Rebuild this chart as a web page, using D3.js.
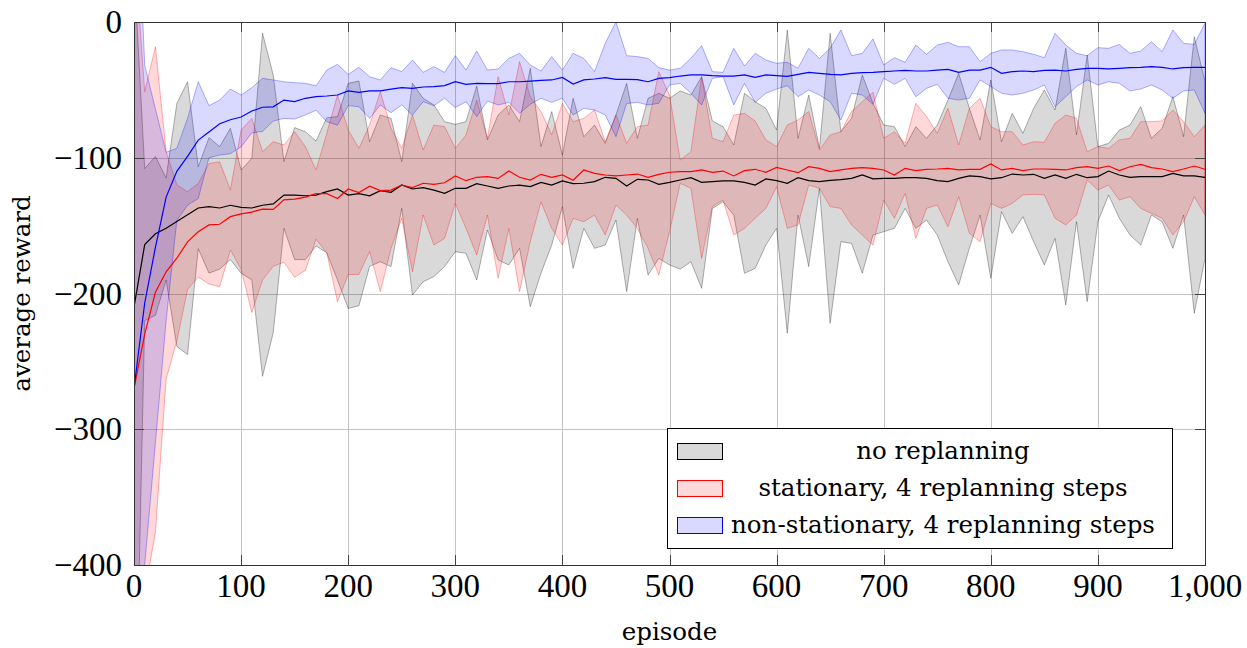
<!DOCTYPE html>
<html lang="en">
<head>
    <meta charset="UTF-8">
    <title>average reward per episode</title>
    <script src="https://d3js.org/d3.v7.min.js"></script>
    <style>
        body { margin: 0; background: #fff; }
        .tick-label { font-family: "Liberation Serif", serif; font-size: 33px; }
        .axis-title, .legend text { font-family: "DejaVu Serif", serif; font-size: 24.5px; }
    </style>
</head>
<body>
<script>
    // episodes (x values), one sample every 10 episodes
    const episodes = d3.range(0, 1001, 10);

    const xTicks = [0, 100, 200, 300, 400, 500, 600, 700, 800, 900, 1000];
    const yTicks = [-400, -300, -200, -100, 0];

    // no replanning
    const noReplanMean = [-210, -164, -156, -152, -147, -142, -137, -136, -137, -135, -136.5, -137, -135, -134, -127.5, -127.5, -128, -127.5, -125, -123, -127.5, -126.5, -128,
        -124.2, -125.5, -120.1, -123, -122, -123.8, -126.2, -122.5, -122.5, -119.1, -120.8, -122.5, -120.8, -120.1, -121.3, -118.1, -120.1, -117.1, -119.1, -118.8, -117.6, -114.4, -115.2, -120.8, -115.9,
        -116.4, -119.6, -118.1, -116.4, -114.7, -118.1, -117.6, -117.1, -117.1, -118.1, -120.1, -115.6, -116.9, -118.8, -114.7, -116.9, -117.6, -116.6, -116.1, -115.2, -112.7, -115.6, -115.2, -115.2, -114.7, -114.7,
        -115.2, -116.9, -117.6, -115.2, -113.4, -113.9, -115.6, -114.7, -112, -112.7, -112.2, -115.2, -112.7, -115.2, -112.2, -114.7, -113.9, -109.8, -112.7, -114.4, -113.9, -113.9, -113.9, -111.5, -113.4, -113.4, -114.4];
    const noReplanHigh = [40, -108, -99, -115, -60, -44, -106.6, -85.2, -91.8, -78.3, -109, -100.4, -8.3, -39, -102.9, -77.8, -80.8, -87.7, -70.5, -69.7, -45.2, -43.5, -88.2,
        -68.5, -71, -102.9, -45.2, -56.2, -61.1, -73.4, -75.4, -73.4, -47.1, -86.9, -68.5, -61.1, -73.4, -34.1, -91.8, -66, -98, -56.2, -84.5, -75.9, -89.4, -68.5, -45.2, -85.7,
        -56.2, -52.5, -56.2, -50.8, -53.8, -40.3, -72.9, -77.1, -90.6, -52.5, -58.7, -63.6, -79.6, -5.9, -85.7, -53.8, -93.1, -8.3, -80.8, -71, -39, -59.9, -75.9, -77.1, -91.8, -77.1,
        -85.7, -75.9, -57.5, -37.8, -63.6, -86.9, -42.7, -88.2, -67.3, -82, -63.6, -50.1, -64.8, -19.4, -83.2, -24.3, -91.8, -89.4, -79.6, -75.9, -62.4, -85.7, -78.3, -55, -84.5, -10.8, -44];
    const noReplanLow = [-580, -220, -216, -190, -239, -245, -167, -185, -182, -175, -185, -190, -261, -229, -152, -175, -175, -165, -170, -190, -211, -209, -180,
        -176.6, -180.2, -137.3, -201.1, -191.3, -187.6, -180.2, -169.2, -170.4, -190.1, -153.2, -175.3, -179, -166.7, -209.7, -185.1, -164.3, -136, -181.5, -152, -166.7, -164.3, -145.9, -198.6, -144.6,
        -186.4, -174.1, -179, -182, -176.6, -196.2, -137.3, -132.4, -142.2, -185.1, -181.5, -164.3, -152, -229.3, -142.2, -180.2, -122.5, -222, -161.8, -163.1, -185.1, -156.9, -154.5, -152, -137.3, -152,
        -145.9, -156.9, -176.6, -193.7, -166.7, -142.2, -188.8, -139.7, -155.7, -143.4, -161.8, -179, -159.4, -208.5, -147.1, -206, -147.1, -127.4, -144.6, -156.9, -164.3, -142.2, -147.1, -166.7, -142.2, -214.6, -174.1];

    // stationary, 4 replanning steps
    const statMean = [-270, -230, -199, -184, -174, -162, -154.5, -149.5, -149, -143.4, -141.4, -140, -137.8, -138, -131, -130.5, -129, -126.5, -126.5, -130, -123, -125.7, -121,
        -124.2, -123.8, -120.1, -122, -118.8, -119.6, -118.4, -113.4, -116.9, -114.4, -113.9, -115.2, -109.8, -114.4, -116.4, -112.2, -114.4, -112.7, -116.6, -109, -111.5, -112.7, -113.4, -112.7, -112,
        -114.4, -112.2, -110.7, -110.2, -110.2, -109, -110.7, -109.8, -113.4, -109.5, -108.5, -110.7, -107.1, -109, -111, -106.6, -107.8, -110.2, -109, -107.8, -107.3, -107.8, -109, -112.7, -107.8, -109.5,
        -108.5, -108.3, -107.8, -109, -108.5, -108.5, -104.6, -109, -107.8, -109.5, -108.3, -108.3, -108.5, -109, -107.3, -106.6, -107.8, -106.1, -109.5, -106.6, -104.9, -107.3, -108.3, -110.2, -108.3, -106.1, -108.5];
    const statHigh = [60, -51.3, -18.2, -95.5, -120, -125, -119, -104.3, -103, -123.8, -79.6, -71, -95.5, -88.2, -90.6, -80.8, -91.8, -109, -82, -53.8, -79.6, -93, -75.9,
        -51.3, -78.3, -93.1, -68.5, -94.3, -75.9, -77.1, -93.1, -83.2, -57.5, -85.7, -40.3, -68.5, -29.2, -55, -66, -83.2, -59.9, -73.4, -71, -64.8, -88.2, -68.5, -89.4, -77.1,
        -75.9, -36.6, -53.8, -101.7, -95.5, -40.3, -85.7, -88.2, -68.5, -67.3, -72.9, -86.9, -91.8, -75.9, -72.2, -66, -94.3, -83.2, -80.8, -66, -58.7, -51.8, -85.7, -80.8, -89.4, -59.9,
        -69.7, -82, -63.6, -90.6, -63.6, -56.2, -77.1, -80.8, -80.8, -90.6, -88.2, -88.6, -74.6, -68.5, -71, -95.5, -91.8, -93.1, -86.9, -85.7, -73.4, -73.4, -72.9, -64.8, -73.4, -84.5, -75.9];
    const statLow = [-600, -420, -376, -263, -235, -197, -188, -193, -195, -168, -182, -214, -190, -180, -177, -188, -183, -160, -170, -206, -186, -186, -169,
        -198.6, -166.7, -144.6, -184, -142.2, -164.3, -159.4, -133.6, -152, -171.6, -142.2, -188.8, -152, -198.6, -161.8, -132.4, -152, -164.3, -144.6, -147.1, -142.2, -156.9, -134.8, -142.2, -152,
        -166.7, -186.4, -154.5, -118.8, -122.5, -174.1, -136, -131.1, -156.9, -152, -144.6, -137.3, -121.3, -152, -149.5, -120.1, -122.5, -136, -137.3, -149.5, -156.9, -164.3, -131.1, -144.6, -126.2, -159.4,
        -137.3, -134.8, -150.8, -128.7, -155.7, -161.8, -133.6, -137.3, -133.6, -127.4, -127, -127.4, -144.6, -149.5, -142.2, -116.4, -123.8, -120.1, -131.1, -128.7, -137.3, -141, -144.6, -156.9, -147.1, -128.7, -142.2];

    // non-stationary, 4 replanning steps
    const nonStatMean = [-270, -207, -166, -129, -110, -99, -87, -81, -75, -72, -70, -65.6, -62.8, -62.5, -57.5, -58.7, -56.2, -55, -54.5, -53.8, -50.8, -51.8, -50.8,
        -50.8, -49.4, -48.4, -48.9, -47.9, -47.6, -46.9, -44, -45.9, -45.2, -45.4, -45.4, -44, -44, -43.5, -43, -42.7, -40.8, -45.7, -42.7, -42, -41, -42.2, -42.2, -42.5,
        -44, -41.5, -41, -39.8, -39, -39, -39.5, -39.8, -39.8, -39, -40.8, -39, -39.5, -40, -38.6, -37.1, -37.8, -38.6, -39, -37.8, -37.3, -37.1, -36.6, -36.1, -35.6, -36.1,
        -36.1, -35.4, -34.9, -37.1, -35.4, -35.4, -33.4, -37.8, -36.6, -36.1, -36.6, -35.6, -35.4, -36.1, -34.9, -34.1, -34.1, -34.6, -34.1, -33.6, -33.4, -32.9, -33.4, -34.6, -33.6, -33.4, -33.4];
    const nonStatHigh = [150, -31.7, -64, -96, -93, -71, -44, -61.6, -57.5, -49.4, -53.8, -48.4, -41.5, -42.7, -44, -44.7, -45.2, -47, -35.4, -31.2, -38.6, -33.4, -40.3,
        -42.7, -33.6, -36.6, -28, -37.1, -32.9, -37.1, -24.8, -35.4, -21.4, -35.4, -34.6, -26.8, -23.1, -31.7, -36.1, -25.5, -35.4, -23.1, -26.8, -36.6, -15.7, 0, -24.8, -25.5,
        -26.8, -33.6, -35.4, -34.1, -26.8, -17.4, -36.6, -37.1, -19.4, -32.4, -23.1, -28, -30.4, -29.7, -34.1, -19.4, -26.8, -19.4, -5.9, -24.8, -23.1, -12.5, -31.7, -26.3, -29.7, -17,
        -23.8, -17, -15, -18.2, -18.2, -29.2, -23.1, -20.6, -20.6, -21.9, -23.8, -26.3, -8.3, -17, -23.1, -24.8, -18.9, -19.4, -16.5, -23.1, -21.4, -14.5, -21.9, -5.9, -15.7, -16.5, -1];
    const nonStatLow = [-600, -400, -310, -220, -146, -135, -130, -100, -98, -97, -92, -81.7, -80.6, -73, -71, -71.5, -68.5, -65, -73.4, -76, -61.6, -62.4, -71,
        -61.1, -66.8, -61.1, -68.5, -58.7, -61.6, -56.2, -63.1, -58.7, -69.7, -58.2, -61.1, -59.2, -67.3, -60.6, -56.2, -59.2, -56.2, -68.5, -63.6, -64.8, -68.5, -84.5, -60, -59.2,
        -61.1, -59.9, -46.4, -45.2, -52.5, -61.1, -41.5, -40.3, -61.1, -45.2, -59.2, -52.5, -49.4, -46.9, -55, -50.1, -53.8, -58.7, -72.2, -52.5, -53.8, -60.6, -41.5, -45.9, -41.5, -55,
        -48.9, -45.9, -56.2, -57.5, -56.2, -42.7, -47.6, -52.5, -53.8, -52.5, -50.1, -46.4, -62.4, -55, -47.6, -42.7, -46.4, -44, -45.2, -50.8, -49.4, -46.4, -50.1, -56.2, -50.8, -50.1, -67.3];

    const seriesNames = ["no replanning", "stationary, 4 replanning steps", "non-stationary, 4 replanning steps"];
    const seriesColors = ["#000000", "#ff0000", "#0000ff"];

    const series = [
        { mean: noReplanMean, high: noReplanHigh, low: noReplanLow },
        { mean: statMean, high: statHigh, low: statLow },
        { mean: nonStatMean, high: nonStatHigh, low: nonStatLow }
    ].map((s, i) => ({
        name: seriesNames[i],
        color: seriesColors[i],
        points: episodes.map((e, j) => ({ e, m: s.mean[j], hi: s.high[j], lo: s.low[j] }))
    }));

    const width = 1247, height = 648;
    const plotLeft = 134, plotRight = 1205, plotTop = 22, plotBottom = 565;

    const x = d3.scaleLinear().domain([0, 1000]).range([plotLeft, plotRight]);
    const y = d3.scaleLinear().domain([-400, 0]).range([plotBottom, plotTop]);

    const svg = d3.select("body").append("svg")
        .attr("width", width)
        .attr("height", height);

    svg.append("defs").append("clipPath").attr("id", "plot-clip")
        .append("rect")
        .attr("x", plotLeft).attr("y", plotTop)
        .attr("width", plotRight - plotLeft).attr("height", plotBottom - plotTop);

    // grid
    const grid = svg.append("g").attr("stroke", "#c4c4c4").attr("stroke-width", 1);
    grid.selectAll(".gx").data(xTicks).join("line")
        .attr("x1", d => Math.round(x(d)) + 0.5).attr("x2", d => Math.round(x(d)) + 0.5)
        .attr("y1", plotTop).attr("y2", plotBottom);
    grid.selectAll(".gy").data(yTicks).join("line")
        .attr("y1", d => Math.round(y(d)) + 0.5).attr("y2", d => Math.round(y(d)) + 0.5)
        .attr("x1", plotLeft).attr("x2", plotRight);

    // bands and mean lines
    const area = d3.area().x(d => x(d.e)).y0(d => y(d.lo)).y1(d => y(d.hi));
    const line = d3.line().x(d => x(d.e)).y(d => y(d.m));

    const plot = svg.append("g").attr("clip-path", "url(#plot-clip)");
    series.forEach(s => {
        plot.append("path")
            .datum(s.points)
            .attr("d", area)
            .attr("fill", s.color).attr("fill-opacity", 0.15)
            .attr("stroke", s.color).attr("stroke-opacity", 0.3).attr("stroke-width", 1);
    });
    series.forEach(s => {
        plot.append("path")
            .datum(s.points)
            .attr("d", line)
            .attr("fill", "none")
            .attr("stroke", s.color).attr("stroke-width", 1.2);
    });

    // ticks (inside, on all four sides)
    const tl = 10;
    const ticks = svg.append("g").attr("stroke", "#444").attr("stroke-width", 1);
    xTicks.forEach(t => {
        const px = Math.round(x(t)) + 0.5;
        ticks.append("line").attr("x1", px).attr("x2", px).attr("y1", plotBottom).attr("y2", plotBottom - tl);
        ticks.append("line").attr("x1", px).attr("x2", px).attr("y1", plotTop).attr("y2", plotTop + tl);
    });
    yTicks.forEach(t => {
        const py = Math.round(y(t)) + 0.5;
        ticks.append("line").attr("y1", py).attr("y2", py).attr("x1", plotLeft).attr("x2", plotLeft + tl);
        ticks.append("line").attr("y1", py).attr("y2", py).attr("x1", plotRight).attr("x2", plotRight - tl);
    });

    // frame
    svg.append("rect")
        .attr("x", plotLeft + 0.5).attr("y", plotTop + 0.5)
        .attr("width", plotRight - plotLeft).attr("height", plotBottom - plotTop)
        .attr("fill", "none").attr("stroke", "#333").attr("stroke-width", 1);

    // tick labels
    svg.append("g").selectAll("text").data(xTicks).join("text")
        .attr("class", "tick-label")
        .attr("x", d => x(d)).attr("y", 597)
        .attr("text-anchor", "middle")
        .text(d3.format(","));
    svg.append("g").selectAll("text").data(yTicks).join("text")
        .attr("class", "tick-label")
        .attr("x", 122).attr("y", d => y(d) + 11)
        .attr("text-anchor", "end")
        .text(d => d3.format("")(d));

    // axis titles
    svg.append("text").attr("class", "axis-title")
        .attr("x", (plotLeft + plotRight) / 2).attr("y", 640)
        .attr("text-anchor", "middle")
        .text("episode");
    svg.append("text").attr("class", "axis-title")
        .attr("transform", `translate(30,${(plotTop + plotBottom) / 2}) rotate(-90)`)
        .attr("text-anchor", "middle")
        .text("average reward");

    // legend
    const legend = svg.append("g").attr("class", "legend");
    legend.append("rect")
        .attr("x", 667.5).attr("y", 428.5).attr("width", 505).attr("height", 120)
        .attr("fill", "#fff").attr("stroke", "#000").attr("stroke-width", 1);
    const rowY = [451, 488, 525];
    series.forEach((s, i) => {
        legend.append("rect")
            .attr("x", 677.5).attr("y", rowY[i] - 7.5).attr("width", 45).attr("height", 16)
            .attr("fill", d3.interpolateRgb("#fff", s.color)(0.15))
            .attr("stroke", s.color).attr("stroke-width", 1);
        legend.append("text")
            .attr("x", 943).attr("y", rowY[i] + 8)
            .attr("text-anchor", "middle")
            .text(s.name);
    });
</script>
</body>
</html>
